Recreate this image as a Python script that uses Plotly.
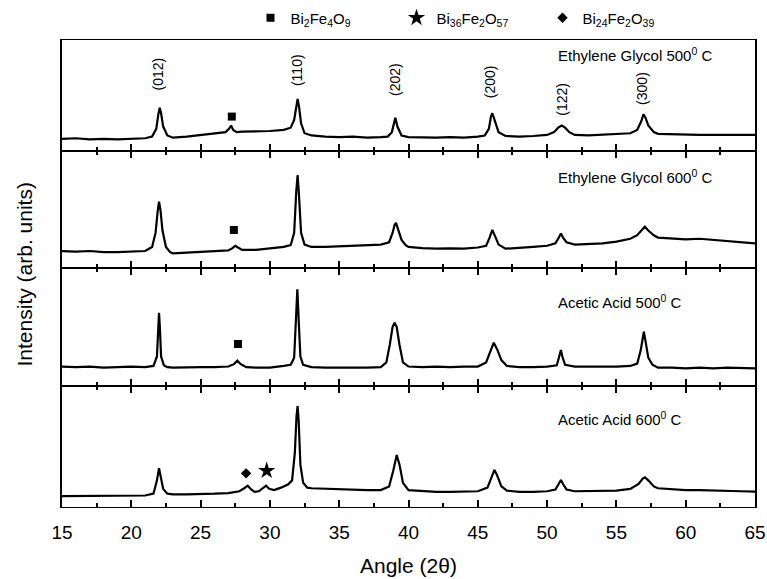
import plotly.graph_objects as go

# ---------------- data (intensity in arb. units 0-100 per panel) -------------
angle_eg500 = [15, 16, 17, 18, 19, 20, 21, 21.5, 21.8, 21.95, 22.05, 22.15, 22.3, 22.6, 23, 24, 25, 26,
               26.8, 27.05, 27.2, 27.35, 27.6, 28, 29, 30, 31, 31.5, 31.75, 31.9, 32.0, 32.1, 32.25, 32.5,
               33, 34, 35, 36, 37, 38, 38.5, 38.8, 38.95, 39.05, 39.2, 39.5, 40, 41, 42, 43, 44, 45, 45.5,
               45.8, 45.95, 46.05, 46.2, 46.5, 47, 48, 49, 50, 50.5, 50.8, 51.05, 51.3, 51.6, 52, 53, 54,
               55, 56, 56.5, 56.8, 56.95, 57.1, 57.3, 57.7, 58, 59, 60, 61, 62, 63, 64, 65]
int_eg500 = [11, 11.5, 10.5, 11, 10.5, 11, 11.5, 13, 20, 33, 39, 34, 22, 14, 12, 13, 14.5, 16,
             17, 20, 23, 19, 17, 17.5, 17.5, 18, 19, 21, 28, 42, 47, 40, 25, 16,
             14, 13, 12.5, 13, 12, 12.5, 13, 17, 27, 30, 22, 14, 12.5, 12, 12, 12.5, 12, 13, 14,
             20, 31, 34, 28, 17, 13.5, 13, 13.5, 14.5, 17, 21, 23, 21, 17, 14.5, 14, 14.5,
             15, 16, 19, 27, 33, 30, 23, 17, 15.5, 15, 14.5, 14.5, 14.5, 14.5, 14.5, 14.5]

angle_eg600 = [15, 16, 17, 18, 19, 20, 21, 21.5, 21.75, 21.9, 22.0, 22.1, 22.25, 22.5, 22.8, 23, 24, 25,
               26, 27, 27.3, 27.5, 27.7, 28, 29, 30, 31, 31.5, 31.75, 31.9, 32.0, 32.1, 32.25, 32.5, 33,
               34, 35, 36, 37, 38, 38.6, 38.85, 39.0, 39.1, 39.25, 39.5, 39.8, 40, 41, 42, 43, 44, 45,
               45.6, 45.85, 46.05, 46.25, 46.5, 47, 48, 49, 50, 50.6, 50.85, 51.0, 51.15, 51.4, 52, 53,
               54, 55, 56, 56.5, 56.8, 57.05, 57.3, 57.7, 58, 59, 60, 61, 62, 63, 64, 65]
int_eg600 = [14.5, 14, 14.5, 13.5, 13.5, 14, 14.5, 18, 30, 48, 56.7, 50, 32, 18, 13.5, 12.5, 13, 13.5,
             14, 15, 17, 19, 17.5, 15.5, 15.5, 16.8, 18, 19.5, 30, 65, 79.5, 62, 30, 20, 18,
             18, 18.5, 19, 19.5, 20, 22, 30, 37, 38.5, 33, 24, 19.5, 18, 17, 16.5, 16.8, 16.5, 17.5,
             19, 26, 32.5, 27, 20, 16.5, 17, 18, 19, 21, 26, 29.6, 26, 22, 20, 20.5,
             21, 22.5, 25, 28, 32, 35.3, 32, 28, 26, 25, 24.5, 25, 24, 23, 22, 21]

angle_aa500 = [15, 16, 17, 18, 19, 20, 21, 21.6, 21.85, 21.95, 22.0, 22.06, 22.15, 22.35, 22.6, 23, 24,
               25, 26, 27, 27.4, 27.65, 27.9, 28.3, 29, 30, 31, 31.5, 31.75, 31.88, 31.98, 32.08, 32.2,
               32.4, 33, 34, 35, 36, 37, 38, 38.4, 38.65, 38.85, 39.0, 39.15, 39.35, 39.6, 40, 41, 42,
               43, 44, 45, 45.6, 45.9, 46.15, 46.4, 46.7, 47.1, 48, 49, 50, 50.7, 50.9, 51.0, 51.1,
               51.3, 52, 53, 54, 55, 56, 56.5, 56.75, 56.9, 56.98, 57.1, 57.3, 57.6, 58, 59, 60, 61,
               62, 63, 64, 65]
int_aa500 = [16.5, 16, 16.5, 15.5, 16, 16.5, 16, 17, 25, 50, 62, 50, 25, 17.5, 16, 15.5, 16,
             16, 16, 16.5, 18.5, 21.5, 18.5, 16, 15.5, 15.5, 17, 18, 24, 55, 82, 55, 25,
             18, 16, 15.5, 15.5, 15, 15.5, 16, 20, 35, 50, 53.6, 50, 35, 20, 16.5, 16, 16.5,
             16, 16.5, 16.5, 20, 30, 36.7, 31, 22, 17, 16, 16, 16.5, 17.5, 25, 30.5, 25,
             18, 16.5, 16.5, 16, 16.5, 17, 19, 30, 43, 46, 38, 24, 18, 15.5, 15.5, 15, 15.5,
             15, 15.5, 15, 15]

angle_aa600 = [15, 16, 17, 18, 19, 20, 21, 21.6, 21.85, 22.0, 22.12, 22.3, 22.6, 23, 24, 25, 26, 27,
               27.8, 28.15, 28.4, 28.65, 28.9, 29.2, 29.5, 29.72, 29.95, 30.3, 30.8, 31.3, 31.6, 31.8,
               31.92, 32.0, 32.08, 32.2, 32.4, 32.7, 33, 34, 35, 36, 37, 38, 38.6, 38.9, 39.15, 39.35,
               39.6, 40, 41, 42, 43, 44, 45, 45.7, 46.0, 46.2, 46.4, 46.7, 47.1, 48, 49, 50, 50.6,
               50.85, 51.0, 51.15, 51.4, 52, 53, 54, 55, 56, 56.6, 56.9, 57.06, 57.3, 57.7, 58, 59,
               60, 61, 62, 63, 64, 65]
int_aa600 = [9, 9, 9.5, 9, 9, 9.5, 9.5, 11, 22, 32, 25, 15, 11, 10.5, 10.5, 10.5, 11, 11.5,
             13, 15.5, 17.6, 14.5, 12.5, 13, 16, 17.6, 15, 14, 16, 18.5, 22, 45,
             75, 83.5, 70, 35, 20, 16, 15.5, 15, 14.6, 14.5, 14, 14, 17, 30, 43, 35,
             20, 14, 13, 12.5, 12.5, 12.5, 13, 16, 25, 30.6, 26, 17, 13.5, 12.5, 12.5, 13, 14.5,
             19, 22.3, 19, 14.5, 13, 13, 13, 13.5, 15, 19, 23.5, 24.5, 22, 17, 15.5, 14.5,
             14, 14, 13.5, 13, 13, 12.7]

panel_titles = ["Ethylene Glycol 500<sup>0</sup> C", "Ethylene Glycol 600<sup>0</sup> C",
                "Acetic Acid 500<sup>0</sup> C", "Acetic Acid 600<sup>0</sup> C"]
title_y = [87, 78, 71.5, 73.5]

hkl_labels = ["(012)", "(110)", "(202)", "(200)", "(122)", "(300)"]
hkl_x = [21.93, 31.96, 39.03, 45.88, 51.07, 56.85]
hkl_y = [69, 73, 64, 62, 47, 56]

phase_names = ["Bi<sub>2</sub>Fe<sub>4</sub>O<sub>9</sub>",
               "Bi<sub>36</sub>Fe<sub>2</sub>O<sub>57</sub>",
               "Bi<sub>24</sub>Fe<sub>2</sub>O<sub>39</sub>"]
# marker positions: (panel, angle, intensity)
bi2fe4o9_marks = [(1, 27.25, 31), (2, 27.4, 32.5), (3, 27.7, 35.6)]
bi36_marks = [(4, 29.77, 30)]
bi24_marks = [(4, 28.28, 27.8)]

x_ticks = [15, 20, 25, 30, 35, 40, 45, 50, 55, 60, 65]

# ---------------- figure ----------------
FONT = "Arial, Liberation Sans, sans-serif"
panels = [(angle_eg500, int_eg500), (angle_eg600, int_eg600),
          (angle_aa500, int_aa500), (angle_aa600, int_aa600)]
domains = [[0.7623, 1.0], [0.5118, 0.7623], [0.2591, 0.5118], [0.0, 0.2591]]

fig = go.Figure()
for i, (xa, ya) in enumerate(panels, start=1):
    sfx = "" if i == 1 else str(i)
    fig.add_trace(go.Scatter(x=xa, y=ya, mode="lines", line=dict(color="black", width=2.2),
                             xaxis="x" + sfx, yaxis="y" + sfx, showlegend=False, hoverinfo="skip"))

symbols = ["square", "star", "diamond"]
sizes = [8, 13, 8]
for k, marks in enumerate([bi2fe4o9_marks, bi36_marks, bi24_marks]):
    for j, (p, ax, ay) in enumerate(marks):
        sfx = "" if p == 1 else str(p)
        fig.add_trace(go.Scatter(x=[ax], y=[ay], mode="markers",
                                 marker=dict(symbol=symbols[k], size=sizes[k], color="black"),
                                 xaxis="x" + sfx, yaxis="y" + sfx, name=phase_names[k],
                                 showlegend=(j == 0), hoverinfo="skip"))

layout = dict(width=767, height=579, margin=dict(l=62, r=12, t=40, b=72, autoexpand=False),
              plot_bgcolor="white", paper_bgcolor="white",
              font=dict(family=FONT, color="black"),
              legend=dict(orientation="h", x=0.272, y=1.047, xanchor="left", yanchor="middle",
                          font=dict(size=15, family=FONT), entrywidth=101, entrywidthmode="pixels",
                          itemwidth=30, bgcolor="rgba(0,0,0,0)"))
for i in range(1, 5):
    sfx = "" if i == 1 else str(i)
    layout["xaxis" + sfx] = dict(
        range=[15, 65], anchor="y" + sfx, domain=[0, 1],
        showline=True, linecolor="black", linewidth=1.1,
        mirror=True if i == 1 else "ticks",
        ticks="inside", ticklen=7, tickwidth=1.5, tickcolor="black",
        tickvals=x_ticks, showticklabels=(i == 4), tickfont=dict(size=19, family=FONT),
        ticklabelstandoff=8,
        minor=dict(ticks="inside", ticklen=4, tickwidth=1.5, tickcolor="black", dtick=2.5, tick0=15),
        showgrid=False, zeroline=False, automargin=False,
        **({"matches": "x4"} if i != 4 else {}))
    layout["yaxis" + sfx] = dict(
        range=[0, 100], domain=domains[i - 1], anchor="x" + sfx,
        showline=True, linecolor="black", linewidth=1.6, mirror=True,
        ticks="", showticklabels=False, showgrid=False, zeroline=False, automargin=False)
fig.update_layout(**layout)

anns = []
for i, t in enumerate(panel_titles, start=1):
    sfx = "" if i == 1 else str(i)
    anns.append(dict(x=50.65, y=title_y[i - 1], xref="x" + sfx, yref="y" + sfx, text=t,
                     showarrow=False, xanchor="left", yanchor="middle",
                     font=dict(size=15, family=FONT)))
for lab, lx, ly in zip(hkl_labels, hkl_x, hkl_y):
    anns.append(dict(x=lx, y=ly, xref="x", yref="y", text=lab, textangle=-90,
                     showarrow=False, xanchor="center", yanchor="middle",
                     font=dict(size=14, family=FONT)))
anns.append(dict(x=0.5, y=-0.126, xref="paper", yref="paper", text="Angle (2θ)",
                 showarrow=False, xanchor="center", yanchor="middle",
                 font=dict(size=21, family=FONT)))
anns.append(dict(x=-0.054, y=0.497, xref="paper", yref="paper", text="Intensity (arb. units)",
                 textangle=-90, showarrow=False, xanchor="center", yanchor="middle",
                 font=dict(size=21, family=FONT)))
fig.update_layout(annotations=anns)

fig.write_html("out.html")
